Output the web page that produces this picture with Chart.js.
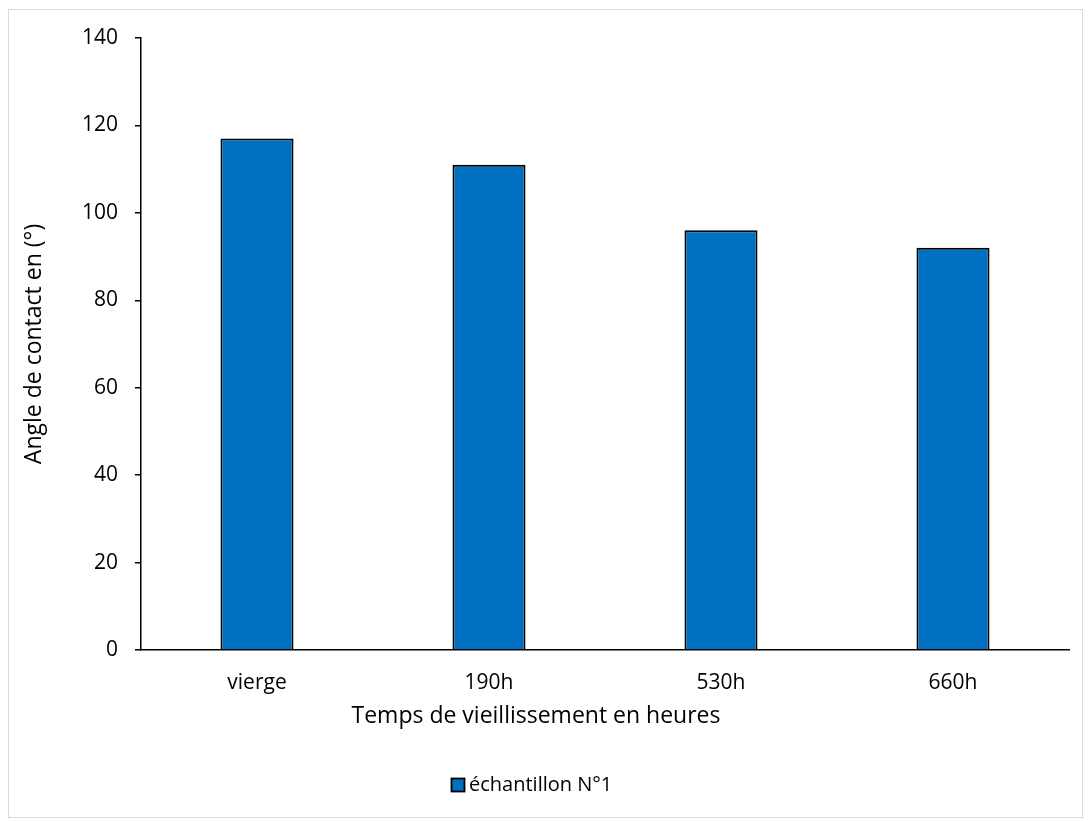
<!DOCTYPE html>
<html>
<head>
<meta charset="utf-8">
<script src="https://cdn.jsdelivr.net/npm/chart.js@4.4.1/dist/chart.umd.min.js"></script>
<style>
  html, body { margin: 0; padding: 0; background: #fff; }
  #wrap { width: 1091px; height: 821px; }
</style>
</head>
<body>
<div id="wrap"><canvas id="c" width="1091" height="821"></canvas></div>
<script>
// Contact angle after ageing, one sample
const categories = ['vierge', '190h', '530h', '660h'];
const contactAngle = [117, 111, 96, 92];
const seriesName = 'échantillon N°1';
const yTickValues = [0, 20, 40, 60, 80, 100, 120, 140];
const xTitle = 'Temps de vieillissement en heures';
const yTitle = 'Angle de contact en (°)';

const FONT = '"Open Sans", "Noto Sans", sans-serif';
const BAR_BLUE = '#0070C0';

// Outer frame, centred axis title and legend key
const decor = {
  id: 'decor',
  beforeDraw(chart) {
    const ctx = chart.ctx;
    ctx.save();
    ctx.fillStyle = '#ffffff';
    ctx.fillRect(0, 0, chart.width, chart.height);
    ctx.strokeStyle = '#d9d9d9';
    ctx.lineWidth = 1;
    ctx.strokeRect(8.5, 9.5, 1074, 808);
    ctx.restore();
  },
  afterDraw(chart) {
    const ctx = chart.ctx;
    ctx.save();
    ctx.font = '23px ' + FONT;
    ctx.fillStyle = '#000';
    ctx.textAlign = 'center';
    ctx.textBaseline = 'alphabetic';
    ctx.fillText(xTitle, 536, 723);

    const ds = chart.data.datasets[0];
    ctx.fillStyle = ds.backgroundColor;
    ctx.fillRect(451.5, 778.5, 13, 13);
    ctx.strokeStyle = '#000';
    ctx.lineWidth = 1.8;
    ctx.strokeRect(451.5, 778.5, 13, 13);
    ctx.fillStyle = '#000';
    ctx.font = '20px ' + FONT;
    ctx.textAlign = 'left';
    ctx.fillText(ds.label, 469, 791);
    ctx.restore();
  }
};

new Chart(document.getElementById('c'), {
  type: 'bar',
  data: {
    labels: categories,
    datasets: [{
      label: seriesName,
      data: contactAngle,
      backgroundColor: BAR_BLUE,
      borderColor: '#000',
      borderWidth: 2,
      categoryPercentage: 1,
      barPercentage: 0.315
    }]
  },
  options: {
    responsive: false,
    animation: false,
    devicePixelRatio: 1,
    layout: { padding: { left: 8, right: 22, top: 38, bottom: 0 } },
    plugins: {
      legend: { display: false },
      tooltip: { enabled: false },
      title: { display: false }
    },
    scales: {
      x: {
        grid: { display: false, drawTicks: false },
        border: { display: true, color: '#000', width: 1.5 },
        ticks: { color: '#000', font: { family: FONT, size: 21 }, padding: 20, maxRotation: 0 },
        afterFit(scale) { scale.height = 171; }
      },
      y: {
        min: 0,
        max: 140,
        afterBuildTicks(scale) { scale.ticks = yTickValues.map(v => ({ value: v })); },
        grid: { drawOnChartArea: false, drawTicks: true, tickLength: 6, color: '#000', lineWidth: 1.5 },
        border: { display: true, color: '#000', width: 1.5 },
        ticks: { color: '#000', font: { family: FONT, size: 21 }, padding: 17 },
        title: {
          display: true,
          text: yTitle,
          color: '#000',
          font: { family: FONT, size: 23 },
          padding: { top: 13, bottom: 0 }
        },
        afterFit(scale) { scale.width = 133; }
      }
    }
  },
  plugins: [decor]
});
</script>
</body>
</html>
